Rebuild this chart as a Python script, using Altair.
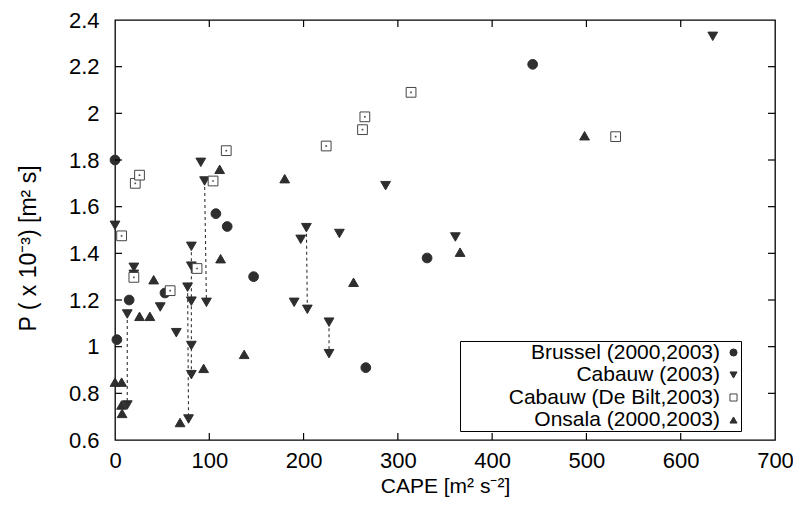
import altair as alt
import pandas as pd

# ---- data ----
series_names = ["Brussel (2000,2003)", "Cabauw (2003)", "Cabauw (De Bilt,2003)", "Onsala (2000,2003)"]

brussel_x = [0, 2, 15, 53, 107, 119, 147, 266, 331, 443]
brussel_y = [1.80, 1.03, 1.20, 1.23, 1.57, 1.515, 1.30, 0.91, 1.38, 2.21]

cabauw_x = [0, 13, 13, 20, 20, 48, 65, 77, 78, 81, 81, 81, 81, 81, 91, 95, 97,
            190, 197, 203, 204, 227, 227, 238, 287, 361, 634]
cabauw_y = [1.52, 1.14, 0.75, 1.34, 1.31, 1.17, 1.06, 1.255, 0.69, 1.43, 1.345, 1.195, 1.005, 0.88, 1.79, 1.71, 1.19,
            1.19, 1.46, 1.51, 1.16, 1.105, 0.97, 1.485, 1.69, 1.47, 2.33]

debilt_x = [7, 20, 21.5, 26, 58.5, 87, 104, 118, 224, 262.5, 265, 314, 531]
debilt_y = [1.475, 1.297, 1.70, 1.735, 1.24, 1.335, 1.71, 1.84, 1.86, 1.93, 1.985, 2.09, 1.90]

onsala_x = [0, 7, 7, 7.5, 26, 37, 41, 69, 94, 111, 112, 137, 180, 253, 366, 498]
onsala_y = [0.848, 0.848, 0.75, 0.714, 1.13, 1.13, 1.287, 0.675, 0.907, 1.76, 1.377, 0.967, 1.72, 1.276, 1.405, 1.904]

# dashed connectors between paired Cabauw values
pair_x1 = [13, 77, 81, 95, 203, 227]
pair_x2 = [13, 78, 81, 97, 204, 227]
pair_y1 = [1.14, 1.255, 1.43, 1.71, 1.51, 1.105]
pair_y2 = [0.75, 0.69, 0.88, 1.19, 1.16, 0.97]

x_ticks = [0, 100, 200, 300, 400, 500, 600, 700]
y_ticks = [0.6, 0.8, 1.0, 1.2, 1.4, 1.6, 1.8, 2.0, 2.2, 2.4]

# ---- tables ----
rows = []
for name, xs, ys in zip(series_names,
                        [brussel_x, cabauw_x, debilt_x, onsala_x],
                        [brussel_y, cabauw_y, debilt_y, onsala_y]):
    for a, b in zip(xs, ys):
        rows.append({"cape": a, "p": b, "series": name})
points = pd.DataFrame(rows)
debilt = points[points["series"] == series_names[2]]
pairs = pd.DataFrame({"x1": pair_x1, "x2": pair_x2, "y1": pair_y1, "y2": pair_y2})
xt = pd.DataFrame({"v": x_ticks[1:-1]})
yt = pd.DataFrame({"v": y_ticks[1:-1]})

W, H = 660, 420
FONT = "Liberation Sans"
DARK = "#2e2e2e"

xscale = alt.Scale(domain=[0, 700], nice=False, zero=False)
yscale = alt.Scale(domain=[0.6, 2.4], nice=False, zero=False)

x_axis = alt.Axis(values=x_ticks, ticks=False, domain=False, grid=False, labelFlush=False,
                  labelFontSize=22, labelPadding=10, labelFont=FONT, labelColor="black",
                  title="CAPE [m² s⁻²]", titleFontSize=21, titleFont=FONT,
                  titleFontWeight="normal", titleColor="black", titlePadding=4)
y_axis = alt.Axis(values=y_ticks, ticks=False, domain=False, grid=False, format="~f", labelFlush=False,
                  labelFontSize=22, labelPadding=16, labelFont=FONT, labelColor="black",
                  title="P ( x 10⁻³) [m² s]", titleFontSize=23, titleFont=FONT,
                  titleFontWeight="normal", titleColor="black", titlePadding=28, titleY=228)

shape_scale = alt.Scale(domain=series_names, range=["circle", "triangle-down", "square", "triangle-up"])
fill_scale = alt.Scale(domain=series_names, range=[DARK, DARK, "white", DARK])
stroke_scale = alt.Scale(domain=series_names, range=[DARK, DARK, "#444444", DARK])

legend = alt.Legend(title=None, orient="none", legendX=345, legendY=321,
                    labelFontSize=21, labelFont=FONT, labelColor="black",
                    labelAlign="right", labelOffset={"expr": "-24"}, symbolOffset=262,
                    labelLimit=500, symbolSize=50, rowPadding=0.5, padding=1,
                    strokeColor="black", fillColor="white", symbolStrokeWidth=1)

pts = alt.Chart(points).mark_point(filled=False, size=95, strokeWidth=1, opacity=1).encode(
    x=alt.X("cape:Q", scale=xscale, axis=x_axis),
    y=alt.Y("p:Q", scale=yscale, axis=y_axis),
    shape=alt.Shape("series:N", scale=shape_scale, legend=legend),
    fill=alt.Fill("series:N", scale=fill_scale, legend=legend),
    stroke=alt.Stroke("series:N", scale=stroke_scale, legend=legend),
)

dashes = alt.Chart(pairs).mark_rule(strokeDash=[3, 3], strokeWidth=1.1, color="#333333").encode(
    x=alt.X("x1:Q", scale=xscale),
    x2="x2:Q",
    y=alt.Y("y1:Q", scale=yscale),
    y2="y2:Q",
)

dots = alt.Chart(debilt).mark_point(filled=True, shape="square", size=3, color="#555555", opacity=1).encode(
    x=alt.X("cape:Q", scale=xscale),
    y=alt.Y("p:Q", scale=yscale),
)

tick_len = 7
bottom_ticks = alt.Chart(xt).mark_rule(color="black", strokeWidth=1.2).encode(
    x=alt.X("v:Q", scale=xscale), y=alt.value(H), y2=alt.value(H - tick_len))
top_ticks = alt.Chart(xt).mark_rule(color="black", strokeWidth=1.2).encode(
    x=alt.X("v:Q", scale=xscale), y=alt.value(0), y2=alt.value(tick_len))
left_ticks = alt.Chart(yt).mark_rule(color="black", strokeWidth=1.2).encode(
    y=alt.Y("v:Q", scale=yscale), x=alt.value(0), x2=alt.value(tick_len))
right_ticks = alt.Chart(yt).mark_rule(color="black", strokeWidth=1.2).encode(
    y=alt.Y("v:Q", scale=yscale), x=alt.value(W), x2=alt.value(W - tick_len))

chart = alt.layer(
    pts, dashes, bottom_ticks, top_ticks, left_ticks, right_ticks, dots
).properties(
    width=W, height=H,
    background="white",
    autosize=alt.AutoSizeParams(type="none"),
    padding={"left": 107, "top": 12, "right": 18, "bottom": 60},
).configure_view(
    stroke="black", strokeWidth=1.3
)

chart.save("out.html", embed_options={"renderer": "svg", "actions": False})
